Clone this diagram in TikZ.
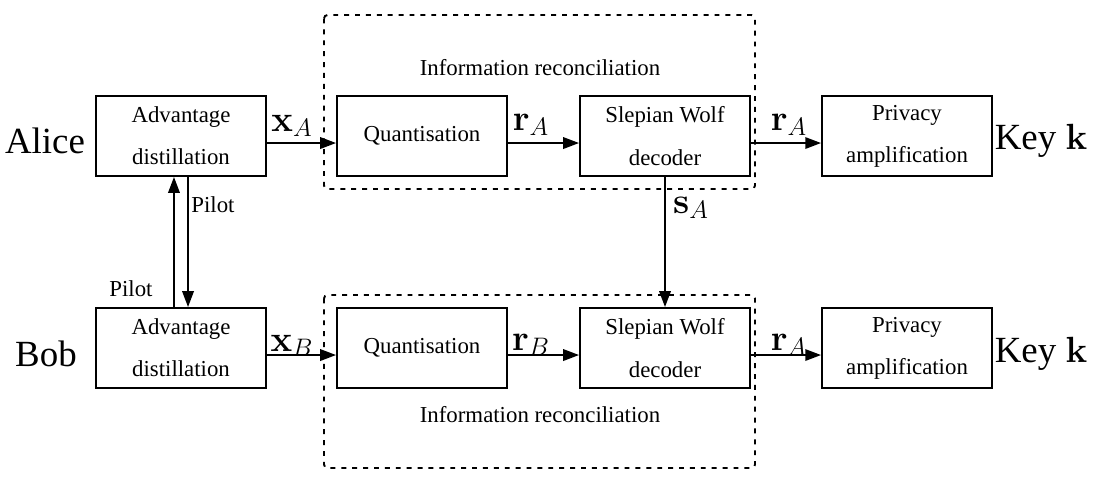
\documentclass[tikz,border=0pt]{standalone}
\usepackage{amsmath}
\usepackage{amssymb}
\usepackage{bm}
\usepackage[no-math]{fontspec}
\setmainfont{Liberation Serif}
\usepackage{tikz}
\usetikzlibrary{arrows.meta, calc, positioning}

\begin{document}
\begin{tikzpicture}[x=0.02cm, y=-0.02cm]
    % --- Styles ---
    \tikzstyle{block}=[
        draw=black,
        line width=1.1pt,
        minimum width=3.4cm,
        minimum height=1.6cm,
        inner sep=0pt,
        align=center,
        font=\fontsize{13}{24}\selectfont
    ]
    \tikzstyle{party}=[font=\fontsize{21}{25}\selectfont]
    \tikzstyle{small_label}=[font=\fontsize{13}{15}\selectfont]
    \tikzstyle{sig_label}=[font=\fontsize{21}{25}\selectfont, inner sep=0pt]
    \tikzstyle{flow}=[
        line width=1.1pt,
        -{Triangle[length=9pt, width=6.5pt]}
    ]
    \tikzstyle{ir_frame}=[
        line width=1.1pt,
        dash pattern=on 2.8pt off 3.4pt,
        rounded corners=2pt
    ]

    \useasboundingbox (0,0) rectangle (1104,477);

    % --- Information reconciliation frames ---
    \draw[ir_frame] (324,15) rectangle (755,189);
    \draw[ir_frame] (324,295) rectangle (755,468);
    \node[small_label] (ir_top) at (540,68) {Information reconciliation};
    \node[small_label] (ir_bot) at (540,415) {Information reconciliation};

    % --- Alice chain ---
    \node[party] (alice) at (45,141) {Alice};
    \node[block] (advA) at (181,136) {Advantage\\distillation};
    \node[block] (quantA) at (422,136) {Quantisation};
    \node[block] (swA) at (665,136) {Slepian Wolf\\decoder};
    \node[block] (privA) at (907,136) {Privacy\\amplification};
    \node[party] (keyA) at (1041,141) {Key $\mathbf{k}$};

    % --- Bob chain ---
    \node[party] (bob) at (46,354) {Bob};
    \node[block] (advB) at (181,348) {Advantage\\distillation};
    \node[block] (quantB) at (422,348) {Quantisation};
    \node[block] (swB) at (665,348) {Slepian Wolf\\decoder};
    \node[block] (privB) at (907,348) {Privacy\\amplification};
    \node[party] (keyB) at (1041,354) {Key $\mathbf{k}$};

    % --- Horizontal flows ---
    \draw[flow] ([yshift=-4pt]advA.east) -- ([yshift=-4pt]quantA.west);
    \draw[flow] ([yshift=-4pt]quantA.east) -- ([yshift=-4pt]swA.west);
    \draw[flow] ([yshift=-4pt]swA.east) -- ([yshift=-4pt]privA.west);
    \draw[flow] ([yshift=-4pt]advB.east) -- ([yshift=-4pt]quantB.west);
    \draw[flow] ([yshift=-4pt]quantB.east) -- ([yshift=-4pt]swB.west);
    \draw[flow] ([yshift=-4pt]swB.east) -- ([yshift=-4pt]privB.west);

    \node[sig_label] (xA) at (292,126) {$\mathbf{x}_A$};
    \node[sig_label] (rA1) at (531,125) {$\mathbf{r}_A$};
    \node[sig_label] (rA2) at (789,125) {$\mathbf{r}_A$};
    \node[sig_label] (xB) at (292,346) {$\mathbf{x}_B$};
    \node[sig_label] (rB) at (531,345) {$\mathbf{r}_B$};
    \node[sig_label] (rA3) at (789,345) {$\mathbf{r}_A$};

    % --- Syndrome from Alice to Bob ---
    \draw[flow] (swA.south) -- (swB.north);
    \node[sig_label] (sA) at (691,208) {$\mathbf{s}_A$};

    % --- Pilot exchange ---
    \draw[flow] ([xshift=-4pt]advB.north) -- ([xshift=-4pt]advA.south);
    \draw[flow] ([xshift=4pt]advA.south) -- ([xshift=4pt]advB.north);
    \node[small_label] (pilotA) at (213,205) {Pilot};
    \node[small_label] (pilotB) at (131,289) {Pilot};

\end{tikzpicture}
\end{document}
